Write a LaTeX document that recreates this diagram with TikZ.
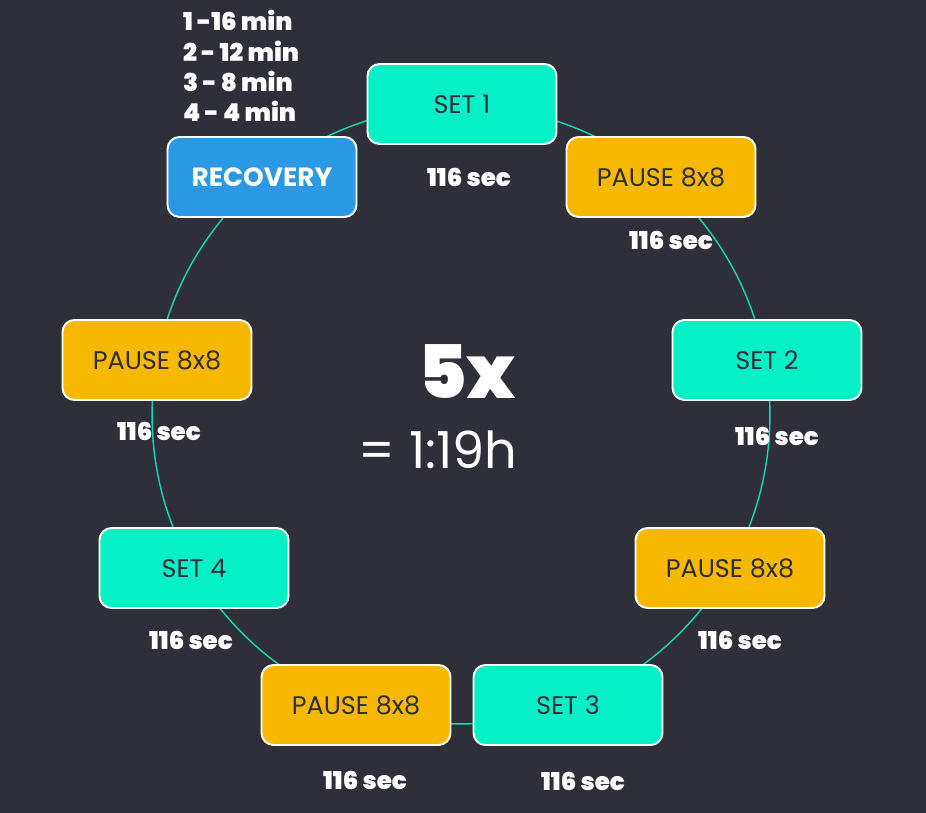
\documentclass[tikz,border=0pt]{standalone}
\usepackage{fontspec}
\setmainfont{Poppins}
\newfontfamily\heavyfont{Poppins}[UprightFont=*-Black]
\definecolor{bgdark}{HTML}{2F2F3A}
\definecolor{setteal}{HTML}{05F0C6}
\definecolor{pauseamber}{HTML}{F8B800}
\definecolor{recoveryblue}{HTML}{2B98E3}
\definecolor{inkdark}{HTML}{2E2E3A}
\definecolor{ringteal}{HTML}{12D9B0}

\begin{document}
\begin{tikzpicture}
  [x=0.02cm,y=-0.02cm,
   box/.style={draw=white,line width=1.1pt,rounded corners=0.24cm,
     minimum width=3.78cm,minimum height=1.6cm,text=inkdark,
     font=\fontsize{14.5}{18}\selectfont},
   setbox/.style={box,fill=setteal},
   pausebox/.style={box,fill=pauseamber},
   secs/.style={text=white,font=\heavyfont\fontsize{14}{16}\selectfont}]
  \fill[bgdark] (0,0) rectangle (926,813);
  \useasboundingbox (0,0) rectangle (926,813);

  % ring behind the boxes
  \coordinate (hub) at (461,415);
  \draw[ringteal,line width=0.8pt] (hub) circle[radius=6.18cm];

  \node[setbox] (set1) at (462,104) {SET 1};
  \node[pausebox] (pause1) at (661,177) {PAUSE 8x8};
  \node[setbox] (set2) at (767,360) {SET 2};
  \node[pausebox] (pause2) at (730,568) {PAUSE 8x8};
  \node[setbox] (set3) at (568,705) {SET 3};
  \node[pausebox] (pause3) at (356,705) {PAUSE 8x8};
  \node[setbox] (set4) at (194,568) {SET 4};
  \node[pausebox] (pause4) at (157,360) {PAUSE 8x8};
  \node[box,fill=recoveryblue,text=white,font=\bfseries\fontsize{15}{18}\selectfont]
    (recovery) at (262,177) {RECOVERY};

  \foreach \name/\x/\y in {set1/469/177,pause1/671/240,set2/777/436,pause2/740/640,
      set3/583/781,pause3/365/780,set4/191/640,pause4/159/431}
    \node[secs] (secs-\name) at (\x,\y) {116 sec};

  \node[secs,align=left,anchor=west,font=\heavyfont\fontsize{14}{17.2}\selectfont]
    (minutes) at (177,66) {1 -16 min\\2 - 12 min\\3 - 8 min\\4 - 4 min};

  \node[text=white,font=\heavyfont\fontsize{42}{46}\selectfont] (rounds) at (467,372) {5x};
  \node[text=white,font=\fontsize{29}{34}\selectfont] (total) at (438,450) {= 1:19h};

\end{tikzpicture}
\end{document}
